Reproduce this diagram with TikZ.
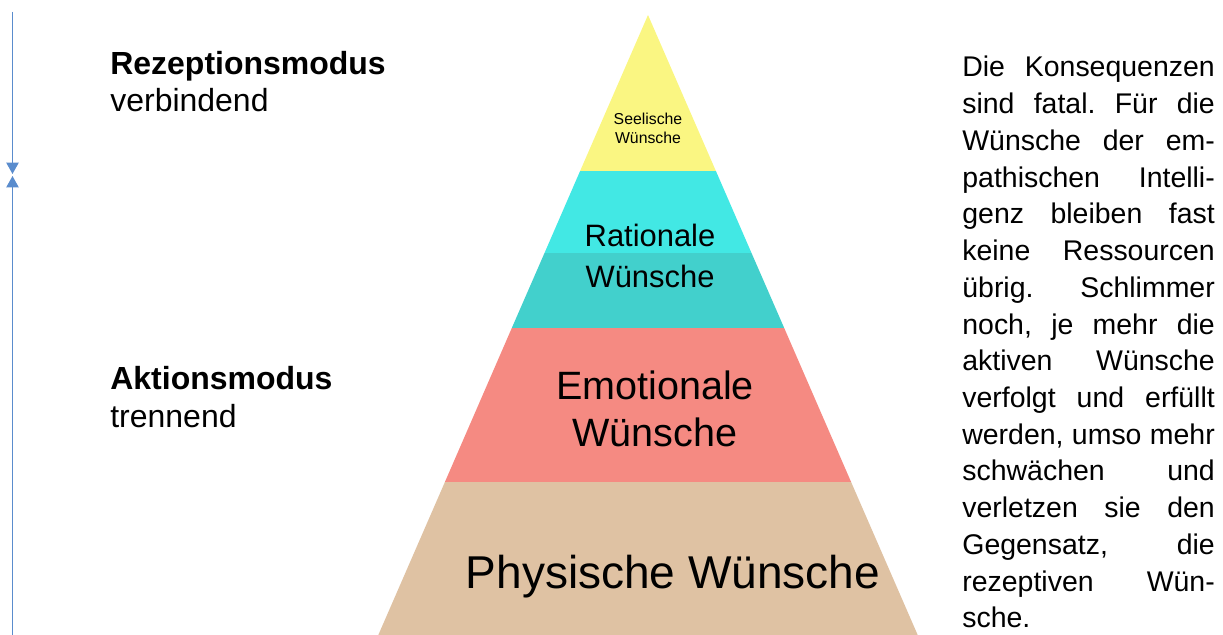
\documentclass[tikz,border=0pt]{standalone}
\usepackage{fontspec}
\setmainfont{Liberation Sans}
\usetikzlibrary{arrows.meta, positioning, calc}
\frenchspacing

\definecolor{seelgelb}{RGB}{250,246,130}
\definecolor{ratcyan}{RGB}{66,232,228}
\definecolor{ratteal}{RGB}{66,208,204}
\definecolor{emorot}{RGB}{245,138,130}
\definecolor{physbraun}{RGB}{223,194,163}
\definecolor{pfeilblau}{RGB}{90,140,205}

\begin{document}
\begin{tikzpicture}[
        x=0.02cm, y=-0.02cm,
        modus/.style={anchor=base west, align=left, inner sep=0pt, font=\fontsize{18.2}{21.1}\selectfont},
        stufe/.style={anchor=base, align=center, inner sep=0pt},
        folgen/.style={anchor=north west, inner sep=0pt, text width=5.05cm, align=justify, font=\fontsize{16.2}{20.9}\selectfont},
        pfeil/.style={-{Triangle[length=6.5pt, width=7pt]}, line width=0.9pt, draw=pfeilblau, fill=pfeilblau}
    ]
        \useasboundingbox (0,0) rectangle (1223,635);
        % Pyramide
        \fill[seelgelb] (648,15) -- (715.9,171) -- (580.1,171) -- cycle;
        \fill[ratcyan] (580.1,171) -- (715.9,171) -- (751.5,253) -- (544.5,253) -- cycle;
        \fill[ratteal] (544.5,253) -- (751.5,253) -- (784.2,328) -- (511.8,328) -- cycle;
        \fill[emorot] (511.8,328) -- (784.2,328) -- (851.1,482) -- (444.9,482) -- cycle;
        \fill[physbraun] (444.9,482) -- (851.1,482) -- (917.7,635) -- (378.3,635) -- cycle;
        \node[stufe, font=\fontsize{9}{10.8}\selectfont] (seelisch) at (648,143) {Seelische\\Wünsche};
        \node[stufe, font=\fontsize{17.6}{22.8}\selectfont] (rational) at (650,287) {Rationale\\Wünsche};
        \node[stufe, font=\fontsize{22.5}{26.2}\selectfont] (emotional) at (655,446) {Emotionale\\Wünsche};
        \node[stufe, font=\fontsize{26.2}{30}\selectfont] (physisch) at (673,588) {Physische Wünsche};
        % Modi links
        \node[modus] (rezeption) at (110,112) {\textbf{Rezeptionsmodus}\\verbindend};
        \node[modus] (aktion) at (110,427) {\textbf{Aktionsmodus}\\trennend};
        \coordinate (oben) at (12.5,12);
        \coordinate (mitteoben) at (12.5,174);
        \coordinate (mitteunten) at (12.5,176);
        \coordinate (unten) at (12.5,635);
        \draw[pfeil] (oben) -- (mitteoben);
        \draw[pfeil] (unten) -- (mitteunten);
        % Text rechts
        \node[folgen] (konsequenzen) at (962,56) {Die Konsequenzen\linebreak sind fatal. Für die\linebreak Wünsche der em-\linebreak pathischen Intelli-\linebreak genz bleiben fast\linebreak keine Ressourcen\linebreak übrig. Schlimmer\linebreak noch, je mehr die\linebreak aktiven Wünsche\linebreak verfolgt und erfüllt\linebreak werden, umso mehr\linebreak schwächen und\linebreak verletzen sie den\linebreak Gegensatz, die\linebreak rezeptiven Wün-\linebreak sche.};
    \end{tikzpicture}
\end{document}
